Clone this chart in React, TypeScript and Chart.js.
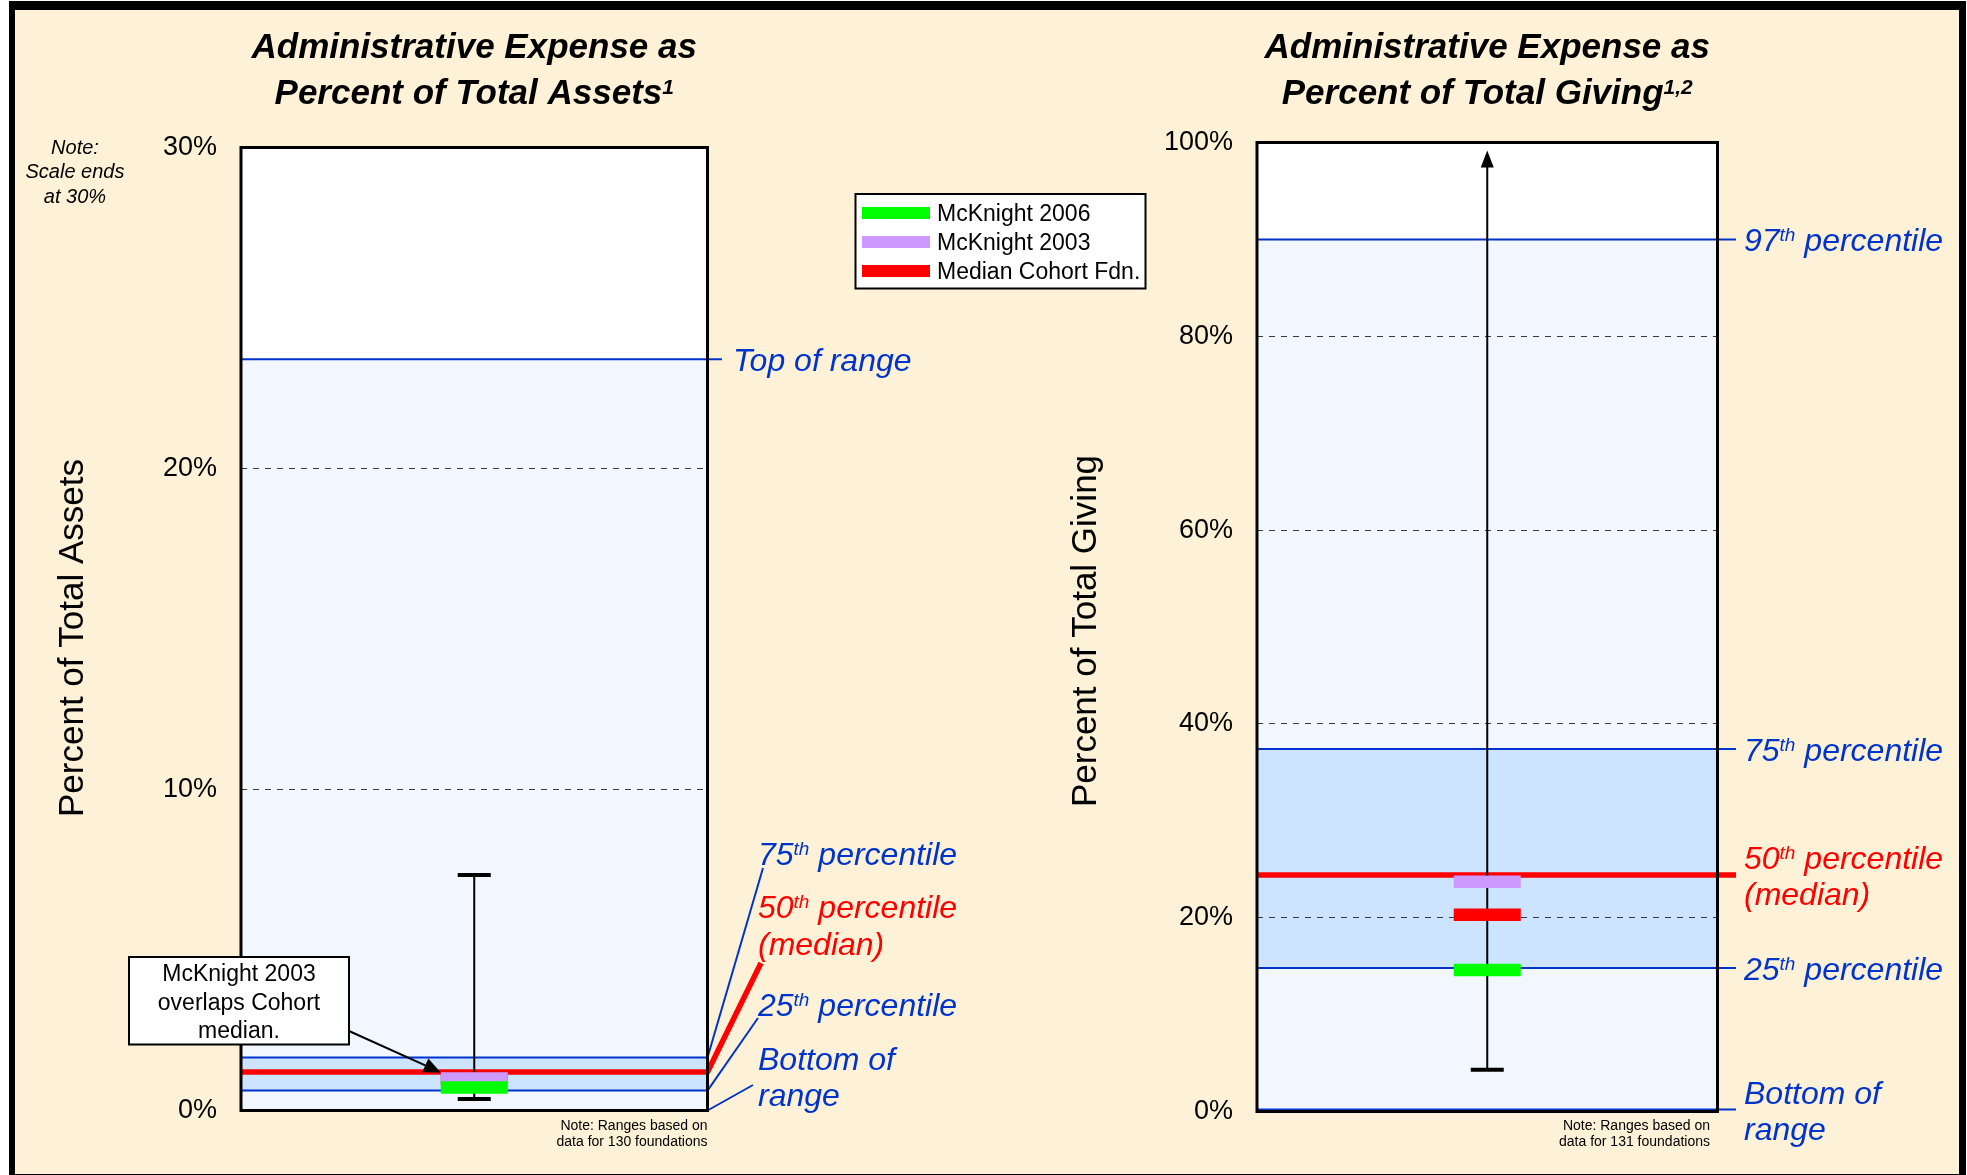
import React, { useEffect, useRef } from 'react';
import { Chart, registerables } from 'chart.js';

Chart.register(...registerables);

const FONT = '"Liberation Sans", Arial, Helvetica, sans-serif';
const CREAM = '#FDF2D7';
const BLUE = '#0033CC';
const RED = '#FF0000';
const H = 1175;

// ---------------- data ----------------
const seriesNames = ['McKnight 2006', 'McKnight 2003', 'Median Cohort Fdn.'];

// Left panel: administrative expense as % of total assets
const assetsTitle = ['Administrative Expense as', 'Percent of Total Assets|1|'];
const assetsAxisTitle = 'Percent of Total Assets';
const assetsTicks = [0, 10, 20, 30];
const assetsPercentileLabels = [
  ['Top of range'],
  ['75|th| percentile'],
  ['50|th| percentile', '(median)'],
  ['25|th| percentile'],
  ['Bottom of', 'range'],
];
const assetsPercentiles = [23.4, 1.65, 1.2, 0.62, 0]; // top, 75th, 50th, 25th, bottom
const assetsMarkers = [0.72, 1.0, 1.0]; // 2006, 2003, cohort median (hidden under 2003)
const assetsWhisker = [0.36, 7.34]; // low, high
const assetsNote = ['Note: Ranges based on', 'data for 130 foundations'];
const scaleNote = ['Note:', 'Scale ends', 'at 30%'];
const calloutText = ['McKnight 2003', 'overlaps Cohort', 'median.'];

// Right panel: administrative expense as % of total giving
const givingTitle = ['Administrative Expense as', 'Percent of Total Giving|1,2|'];
const givingAxisTitle = 'Percent of Total Giving';
const givingTicks = [0, 20, 40, 60, 80, 100];
const givingPercentileLabels = [
  ['97|th| percentile'],
  ['75|th| percentile'],
  ['50|th| percentile', '(median)'],
  ['25|th| percentile'],
  ['Bottom of', 'range'],
];
const givingPercentiles = [90, 37.4, 24.4, 14.8, 0.2]; // 97th, 75th, 50th, 25th, bottom
const givingMarkers = [14.6, 23.7, 20.3]; // 2006, 2003, cohort median
const givingWhisker = [4.3, 130]; // low, high (high is off the scale -> arrow)
const givingNote = ['Note: Ranges based on', 'data for 131 foundations'];

// ---------------- styles ----------------
const seriesColors = ['#00FF00', '#CC99FF', '#FF0000'];
const percentileColors = [BLUE, BLUE, RED, BLUE, BLUE];
const percentileWidths = [2, 2, 5.5, 2, 2];
const LIGHT_BAND = '#F2F7FF';
const MID_BAND = '#CCE4FF';

function drawRich(
  ctx: CanvasRenderingContext2D,
  text: string,
  x: number,
  y: number,
  size: number,
  style: string,
  color: string,
  align: 'left' | 'center' | 'right'
) {
  const parts = text.split('|');
  const main = `${style} ${size}px ${FONT}`;
  const sup = `${style} ${Math.round(size * 0.6)}px ${FONT}`;
  const widths = parts.map((p, i) => {
    ctx.font = i % 2 ? sup : main;
    return ctx.measureText(p).width;
  });
  const total = widths.reduce((a, b) => a + b, 0);
  let cx = align === 'left' ? x : align === 'center' ? x - total / 2 : x - total;
  ctx.save();
  ctx.fillStyle = color;
  ctx.textAlign = 'left';
  ctx.textBaseline = 'alphabetic';
  parts.forEach((p, i) => {
    ctx.font = i % 2 ? sup : main;
    ctx.fillText(p, cx, i % 2 ? y - size * 0.3 : y);
    cx += widths[i];
  });
  ctx.restore();
}

function drawArrow(ctx: CanvasRenderingContext2D, x1: number, y1: number, x2: number, y2: number) {
  const ang = Math.atan2(y2 - y1, x2 - x1);
  const len = 17;
  const hw = 7.5;
  const bx = x2 - Math.cos(ang) * len;
  const by = y2 - Math.sin(ang) * len;
  ctx.save();
  ctx.strokeStyle = '#000';
  ctx.fillStyle = '#000';
  ctx.lineWidth = 2;
  ctx.beginPath();
  ctx.moveTo(x1, y1);
  ctx.lineTo(bx, by);
  ctx.stroke();
  ctx.beginPath();
  ctx.moveTo(x2, y2);
  ctx.lineTo(bx + Math.sin(ang) * hw, by - Math.cos(ang) * hw);
  ctx.lineTo(bx - Math.sin(ang) * hw, by + Math.cos(ang) * hw);
  ctx.closePath();
  ctx.fill();
  ctx.restore();
}

type LabelLayout = { x: number; tickEnd?: number; baselines?: number[]; leader?: [number, number] };

interface Panel {
  canvasLeft: number;
  canvasWidth: number;
  area: { left: number; right: number; top: number; bottom: number };
  yMax: number;
  ticks: number[];
  title: string[];
  axisTitle: string;
  axisTitleAt: [number, number];
  percentiles: number[];
  percentileLabels: string[][];
  labelLayout: LabelLayout[];
  markers: number[];
  whisker: number[];
  note: string[];
  noteRight: number;
  extras?: (ctx: CanvasRenderingContext2D, chart: any) => void;
}

function drawAssetsExtras(ctx: CanvasRenderingContext2D, chart: any) {
  // scale note
  const nb = [154, 178, 203];
  scaleNote.forEach((t, i) => drawRich(ctx, t, 75, nb[i], 20, 'italic', '#000', 'center'));

  // legend
  ctx.save();
  ctx.fillStyle = '#fff';
  ctx.fillRect(855.5, 194, 290, 94.5);
  ctx.strokeStyle = '#000';
  ctx.lineWidth = 2;
  ctx.strokeRect(855.5, 194, 290, 94.5);
  ctx.restore();
  seriesNames.forEach((n, i) => {
    const cy = 213 + i * 29;
    ctx.fillStyle = seriesColors[i];
    ctx.fillRect(862, cy - 6, 68, 12);
    drawRich(ctx, n, 937, cy + 8.2, 23, 'normal', '#000', 'left');
  });

  // callout
  ctx.save();
  ctx.fillStyle = '#fff';
  ctx.fillRect(129, 957, 220, 87.5);
  ctx.strokeStyle = '#000';
  ctx.lineWidth = 2;
  ctx.strokeRect(129, 957, 220, 87.5);
  ctx.restore();
  const cb = [981, 1010, 1038];
  calloutText.forEach((t, i) => drawRich(ctx, t, 239, cb[i], 23, 'normal', '#000', 'center'));
  const xc = chart.scales.x.getPixelForValue(0.5);
  const tipY = chart.scales.y.getPixelForValue(assetsMarkers[1]) - 6;
  drawArrow(ctx, 349, 1031, xc - 33.5, tipY);
}

const assetsPanel: Panel = {
  canvasLeft: 0,
  canvasWidth: 1180,
  area: { left: 241, right: 707.5, top: 147.5, bottom: 1110.5 },
  yMax: 30,
  ticks: assetsTicks,
  title: assetsTitle,
  axisTitle: assetsAxisTitle,
  axisTitleAt: [73, 638],
  percentiles: assetsPercentiles,
  percentileLabels: assetsPercentileLabels,
  labelLayout: [
    { x: 733, tickEnd: 722 },
    { x: 758, baselines: [864.5], leader: [763, 868] },
    { x: 758, baselines: [917.5, 954.5], leader: [761, 963] },
    { x: 758, baselines: [1015.5], leader: [758, 1018] },
    { x: 758, baselines: [1069.5, 1106], leader: [753, 1085] },
  ],
  markers: assetsMarkers,
  whisker: assetsWhisker,
  note: assetsNote,
  noteRight: 707.5,
  extras: drawAssetsExtras,
};

const givingPanel: Panel = {
  canvasLeft: 1000,
  canvasWidth: 967,
  area: { left: 257, right: 717.5, top: 142.5, bottom: 1111.5 },
  yMax: 100,
  ticks: givingTicks,
  title: givingTitle,
  axisTitle: givingAxisTitle,
  axisTitleAt: [86, 631],
  percentiles: givingPercentiles,
  percentileLabels: givingPercentileLabels,
  labelLayout: givingPercentiles.map(() => ({ x: 744, tickEnd: 736 })),
  markers: givingMarkers,
  whisker: givingWhisker,
  note: givingNote,
  noteRight: 710,
};

function panelPlugin(p: Panel) {
  return {
    id: 'panelDecor',
    beforeDraw(chart: any) {
      const { ctx, chartArea: ca, scales } = chart;
      const y = scales.y;
      ctx.save();
      ctx.fillStyle = '#fff';
      ctx.fillRect(ca.left, ca.top, ca.right - ca.left, ca.bottom - ca.top);
      const n = p.percentiles.length;
      const yTop = y.getPixelForValue(p.percentiles[0]);
      const yBot = y.getPixelForValue(p.percentiles[n - 1]);
      ctx.fillStyle = LIGHT_BAND;
      ctx.fillRect(ca.left, yTop, ca.right - ca.left, yBot - yTop);
      const y75 = y.getPixelForValue(p.percentiles[1]);
      const y25 = y.getPixelForValue(p.percentiles[3]);
      ctx.fillStyle = MID_BAND;
      ctx.fillRect(ca.left, y75, ca.right - ca.left, y25 - y75);
      ctx.restore();
    },
    beforeDatasetsDraw(chart: any) {
      const { ctx, chartArea: ca, scales } = chart;
      const y = scales.y;
      ctx.save();
      ctx.lineJoin = 'round';
      ctx.lineCap = 'butt';
      // percentile lines
      p.percentiles.forEach((v, i) => {
        const py = y.getPixelForValue(v);
        const lay = p.labelLayout[i];
        ctx.strokeStyle = percentileColors[i];
        ctx.lineWidth = percentileWidths[i];
        ctx.beginPath();
        ctx.moveTo(ca.left, py);
        if (lay.leader) {
          ctx.lineTo(ca.right, py);
          ctx.lineTo(lay.leader[0], lay.leader[1]);
        } else {
          ctx.lineTo(lay.tickEnd as number, py);
        }
        ctx.stroke();
      });
      // whisker
      const xc = scales.x.getPixelForValue(0.5);
      const [lo, hi] = p.whisker;
      const yLo = y.getPixelForValue(lo);
      const overflow = hi > p.yMax;
      const yHi = overflow ? ca.top + 8 : y.getPixelForValue(hi);
      ctx.strokeStyle = '#000';
      ctx.fillStyle = '#000';
      ctx.lineWidth = 2;
      ctx.beginPath();
      ctx.moveTo(xc, yLo);
      ctx.lineTo(xc, overflow ? yHi + 15 : yHi);
      ctx.stroke();
      ctx.lineWidth = 4;
      ctx.beginPath();
      ctx.moveTo(xc - 16.5, yLo);
      ctx.lineTo(xc + 16.5, yLo);
      if (!overflow) {
        ctx.moveTo(xc - 16.5, yHi);
        ctx.lineTo(xc + 16.5, yHi);
      }
      ctx.stroke();
      if (overflow) {
        ctx.beginPath();
        ctx.moveTo(xc, yHi);
        ctx.lineTo(xc - 6.5, yHi + 17);
        ctx.lineTo(xc + 6.5, yHi + 17);
        ctx.closePath();
        ctx.fill();
      }
      ctx.restore();
    },
    afterDatasetsDraw(chart: any) {
      const { ctx, chartArea: ca, scales } = chart;
      const y = scales.y;
      // plot frame
      ctx.save();
      ctx.strokeStyle = '#000';
      ctx.lineWidth = 3;
      ctx.strokeRect(ca.left, ca.top, ca.right - ca.left, ca.bottom - ca.top);
      ctx.restore();

      // percentile labels
      p.percentiles.forEach((v, i) => {
        const py = y.getPixelForValue(v);
        const lay = p.labelLayout[i];
        const lines = p.percentileLabels[i];
        const bases =
          lay.baselines ||
          (lines.length === 1 ? [py + 11.5] : [py - 6, py + 30]);
        lines.forEach((t, j) => drawRich(ctx, t, lay.x, bases[j], 32, 'italic', percentileColors[i], 'left'));
      });

      // titles
      const cx = (ca.left + ca.right) / 2;
      drawRich(ctx, p.title[0], cx, 58, 35, 'italic bold', '#000', 'center');
      drawRich(ctx, p.title[1], cx, 104, 35, 'italic bold', '#000', 'center');

      // axis title
      ctx.save();
      ctx.translate(p.axisTitleAt[0], p.axisTitleAt[1]);
      ctx.rotate(-Math.PI / 2);
      ctx.font = `35px ${FONT}`;
      ctx.fillStyle = '#000';
      ctx.textAlign = 'center';
      ctx.textBaseline = 'middle';
      ctx.fillText(p.axisTitle, 0, 0);
      ctx.restore();

      // footnote
      drawRich(ctx, p.note[0], p.noteRight, 1129.5, 14, 'normal', '#000', 'right');
      drawRich(ctx, p.note[1], p.noteRight, 1146, 14, 'normal', '#000', 'right');

      if (p.extras) p.extras(ctx, chart);
    },
  };
}

function makeChart(canvas: HTMLCanvasElement, p: Panel) {
  const a = p.area;
  const datasets = p.markers.map((v, i) => ({
    label: seriesNames[i],
    data: [{ x: 0.5, y: v }],
    pointStyle: 'line',
    pointRadius: 33.5,
    pointHoverRadius: 33.5,
    pointBorderWidth: 12.5,
    pointBorderColor: seriesColors[i],
    pointBackgroundColor: seriesColors[i],
    borderColor: seriesColors[i],
    backgroundColor: seriesColors[i],
    order: i,
  }));
  return new Chart(canvas, {
    type: 'scatter',
    data: { datasets } as any,
    options: {
      responsive: false,
      animation: false,
      devicePixelRatio: 1,
      events: [],
      layout: {
        padding: { left: 0, top: a.top, right: p.canvasWidth - a.right, bottom: H - a.bottom },
      },
      plugins: {
        legend: { display: false },
        tooltip: { enabled: false },
        title: { display: false },
      },
      scales: {
        x: { type: 'linear', min: 0, max: 1, display: false },
        y: {
          type: 'linear',
          min: 0,
          max: p.yMax,
          afterFit: (s: any) => {
            s.width = a.left;
          },
          afterBuildTicks: (s: any) => {
            s.ticks = p.ticks.map((v) => ({ value: v }));
          },
          ticks: {
            autoSkip: false,
            padding: 24,
            color: '#000',
            font: { family: FONT, size: 27 },
            callback: (v: any) => `${v}%`,
          },
          grid: { color: '#3a3a3a', lineWidth: 1, drawTicks: false },
          border: { display: false, dash: [6, 6] },
        },
      },
    } as any,
    plugins: [panelPlugin(p)],
  });
}

export default function App() {
  const leftRef = useRef<HTMLCanvasElement>(null);
  const rightRef = useRef<HTMLCanvasElement>(null);

  useEffect(() => {
    const c1 = makeChart(leftRef.current as HTMLCanvasElement, assetsPanel);
    const c2 = makeChart(rightRef.current as HTMLCanvasElement, givingPanel);
    return () => {
      c1.destroy();
      c2.destroy();
    };
  }, []);

  return (
    <div
      style={{
        position: 'absolute',
        left: 0,
        top: 0,
        width: 1967,
        height: H,
        background: '#fff',
        overflow: 'hidden',
      }}
    >
      <div style={{ position: 'absolute', left: 9, top: 1, width: 1957, height: 1174, background: '#000' }} />
      <div style={{ position: 'absolute', left: 15, top: 10, width: 1944, height: 1164, background: CREAM }} />
      <canvas
        ref={leftRef}
        width={assetsPanel.canvasWidth}
        height={H}
        style={{ position: 'absolute', left: assetsPanel.canvasLeft, top: 0, width: assetsPanel.canvasWidth, height: H }}
      />
      <canvas
        ref={rightRef}
        width={givingPanel.canvasWidth}
        height={H}
        style={{ position: 'absolute', left: givingPanel.canvasLeft, top: 0, width: givingPanel.canvasWidth, height: H }}
      />
    </div>
  );
}
